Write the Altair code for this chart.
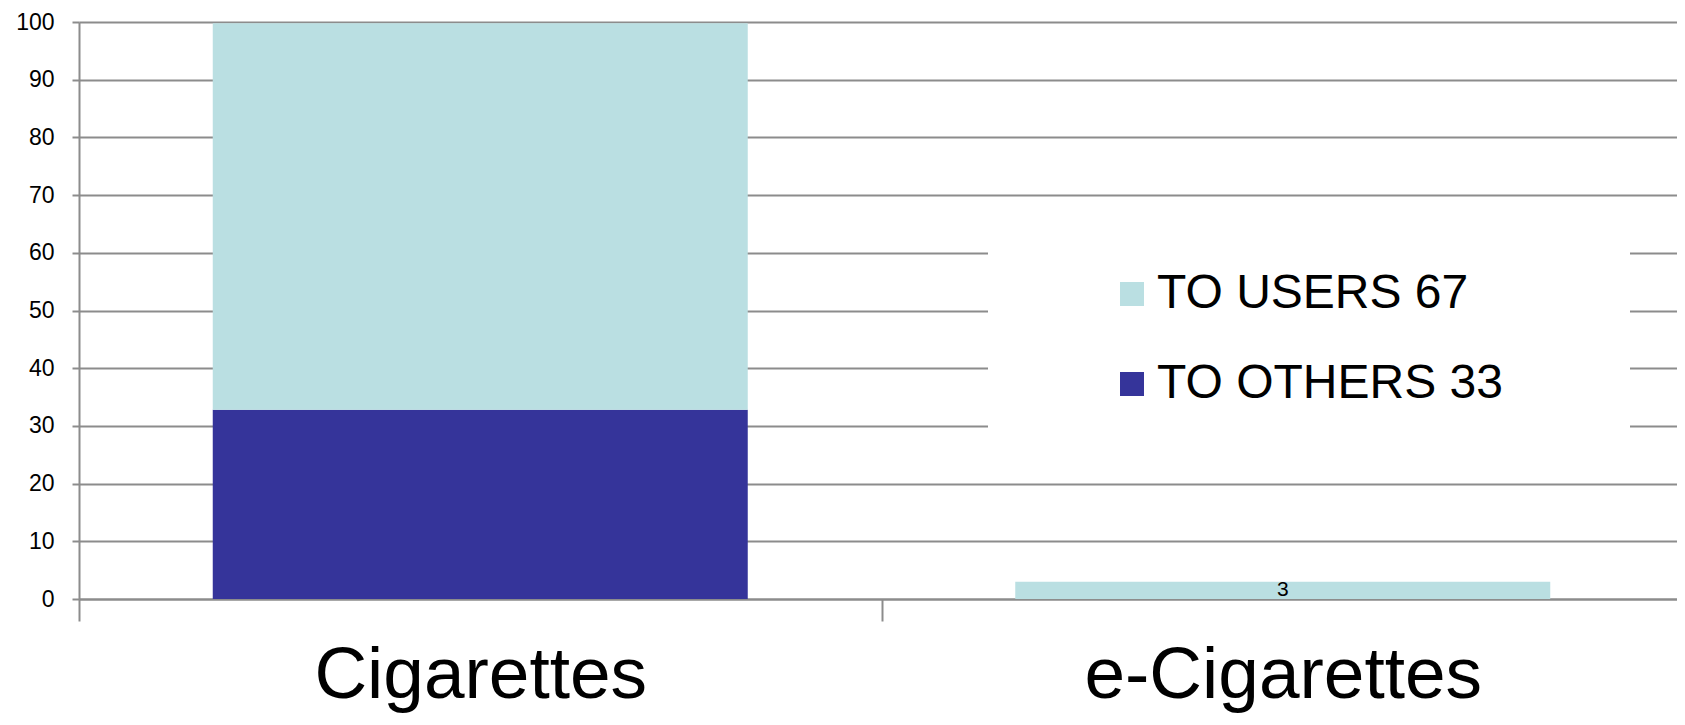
import altair as alt
import pandas as pd

# ---- data ----
categories = ["Cigarettes", "e-Cigarettes"]
series_names = ["TO USERS 67", "TO OTHERS 33"]
to_users = [67, 3]
to_others = [32.8, 0]
y_ticks = [0, 10, 20, 30, 40, 50, 60, 70, 80, 90, 100]
bar_label_cat = ["e-Cigarettes"]
bar_label_val = [3]
bar_label_txt = ["3"]
colors = ["#BADFE2", "#35349A"]

rows = []
for c, u, o in zip(categories, to_users, to_others):
    rows.append({"category": c, "series": series_names[1], "value": o, "stack_order": 0})
    rows.append({"category": c, "series": series_names[0], "value": u, "stack_order": 1})
df = pd.DataFrame(rows)
label_df = pd.DataFrame({"category": bar_label_cat, "value": bar_label_val, "text": bar_label_txt})

FONT = "Liberation Sans"
GRAY = "#8c8c8c"

x_scale = alt.Scale(domain=categories, range=[0, 1605], paddingInner=0, paddingOuter=0)
y_scale = alt.Scale(domain=[0, 100], nice=False)

x_axis = alt.Axis(
    title=None, labelAngle=0, labelFontSize=73, labelFont=FONT, labelColor="black",
    labelBaseline="alphabetic", labelPadding=76, tickSize=22, tickBand="extent",
    ticks=True, domain=True, grid=False, labelLimit=0,
)
y_axis = alt.Axis(
    title=None, values=y_ticks, labelFontSize=23, labelFont=FONT, labelColor="black",
    tickSize=7, labelPadding=18, grid=True, domain=True,
)

bars = alt.Chart(df).mark_bar(width={"band": 2 / 3}).encode(
    x=alt.X("category:N", scale=x_scale, sort=categories, axis=x_axis),
    y=alt.Y("value:Q", stack="zero", scale=y_scale, axis=y_axis),
    color=alt.Color(
        "series:N",
        scale=alt.Scale(domain=series_names, range=colors),
        legend=alt.Legend(
            title=None, orient="none", legendX=1029, legendY=248,
            symbolType="square", symbolSize=576, symbolStrokeWidth=0,
            labelFontSize=48, labelFont=FONT, labelColor="black",
            labelOffset=1, rowPadding=42, padding=0, labelLimit=0,
        ),
    ),
    order=alt.Order("stack_order:Q"),
)

# white backdrop behind the legend (hides gridlines as in the reference)
box = alt.Chart(pd.DataFrame({"b": [0]})).mark_rect(color="white").encode(
    x=alt.value(909), x2=alt.value(1551), y=alt.value(193), y2=alt.value(441)
)

labels = alt.Chart(label_df).transform_calculate(mid="datum.value / 2").mark_text(
    fontSize=21, font=FONT, color="black", baseline="middle", align="center"
).encode(
    x=alt.X("category:N", scale=x_scale, sort=categories, axis=x_axis),
    y=alt.Y("mid:Q", scale=y_scale, axis=y_axis),
    text="text:N",
)

chart = alt.layer(bars, box, labels).properties(
    width=1598,
    height=577,
    autosize=alt.AutoSizeParams(type="none"),
    padding={"left": 71, "top": 14, "right": 0, "bottom": 114},
    background="white",
).configure_view(stroke=None).configure_axis(
    domainColor=GRAY, domainWidth=2, tickColor=GRAY, tickWidth=2,
    gridColor=GRAY, gridWidth=2,
)

chart.save("out.html", embed_options={"renderer": "svg", "actions": False})
